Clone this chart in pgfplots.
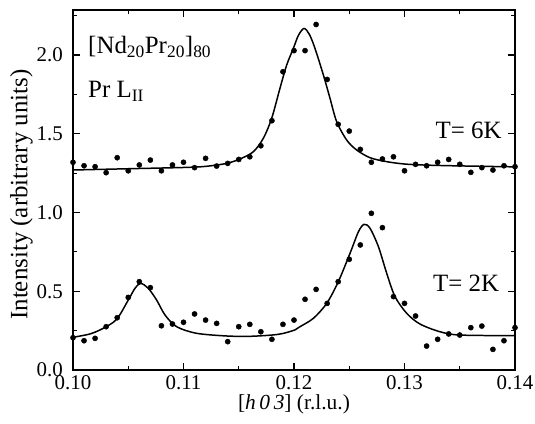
\documentclass[border=0pt]{standalone}
\usepackage{fontspec}
\setmainfont{Liberation Serif}
\usepackage{pgfplots}
\pgfplotsset{compat=1.18}

\begin{document}
\begin{tikzpicture}
\begin{axis}[
 name=ax,
 scale only axis, width=442bp, height=360bp,
 xmin=0.10, xmax=0.14, ymin=0, ymax=2.286,
 xtick={0.10,0.11,0.12,0.13,0.14},
 minor xtick={0.105,0.115,0.125,0.135},
 ytick={0,0.5,1,1.5,2},
 minor ytick={0.25,0.75,1.25,1.75,2.25},
 tick align=inside,
 major tick length=7bp, minor tick length=4bp,
 xticklabel style={/pgf/number format/fixed, /pgf/number format/fixed zerofill, /pgf/number format/precision=2},
 yticklabel style={/pgf/number format/fixed, /pgf/number format/fixed zerofill, /pgf/number format/precision=1},
 /pgf/number format/assume math mode=true,
 ticklabel style={font=\fontsize{21}{24}\selectfont},
 xticklabel style={inner sep=0pt, yshift=-5bp},
 yticklabel style={inner sep=0pt, xshift=-10bp},
 axis line style={line width=1.5pt},
 every tick/.style={line width=1.1pt, black},
 clip=false,
 xlabel={[\textit{h\,0\,3}] (r.l.u.)},
 xlabel style={font=\fontsize{21.5}{24}\selectfont, inner sep=0pt, anchor=base, at={(axis description cs:0.5,-0.111)}},
 ylabel={Intensity (arbitrary units)},
 ylabel style={font=\fontsize{25}{30}\selectfont, inner sep=0pt, anchor=north, at={(axis description cs:-0.1425,0.4875)}},
]
% T = 6K data
\addplot[only marks, mark=*, mark size=2.6bp, black] coordinates {
(0.100,1.319) (0.101,1.297) (0.102,1.291) (0.103,1.253) (0.104,1.348)
(0.105,1.265) (0.106,1.302) (0.107,1.333) (0.108,1.265) (0.109,1.302)
(0.110,1.319) (0.111,1.285) (0.112,1.344) (0.113,1.295) (0.114,1.312)
(0.115,1.337) (0.116,1.354) (0.117,1.424) (0.118,1.583) (0.119,1.894)
(0.120,2.028) (0.121,2.028) (0.122,2.194) (0.123,1.845) (0.124,1.560)
(0.125,1.517) (0.126,1.401) (0.127,1.319) (0.128,1.340) (0.129,1.354)
(0.130,1.265) (0.131,1.306) (0.132,1.297) (0.133,1.319) (0.134,1.337)
(0.135,1.306) (0.136,1.255) (0.137,1.285) (0.138,1.270) (0.139,1.297)
(0.140,1.291)
};
% T = 6K fit
\addplot[smooth, tension=0.5, line width=1.5pt, black] coordinates {
(0.1000,1.270) (0.1050,1.278) (0.1100,1.286) (0.1120,1.293) (0.1139,1.312)
(0.11511,1.340) (0.11632,1.386) (0.11722,1.471) (0.11798,1.598) (0.11873,1.789)
(0.11934,1.937) (0.11994,2.042) (0.12040,2.125) (0.12091,2.169) (0.12140,2.130)
(0.12190,2.042) (0.12266,1.873) (0.12326,1.725) (0.12386,1.577) (0.12477,1.460)
(0.12567,1.397) (0.12688,1.348) (0.12839,1.323) (0.1300,1.308) (0.1320,1.301)
(0.1350,1.296) (0.1400,1.290)
};
% T = 2K data
\addplot[only marks, mark=*, mark size=2.6bp, black] coordinates {
(0.100,0.205) (0.101,0.186) (0.102,0.201) (0.103,0.275) (0.104,0.332)
(0.105,0.461) (0.106,0.561) (0.107,0.523) (0.108,0.281) (0.109,0.292)
(0.110,0.303) (0.111,0.356) (0.112,0.317) (0.113,0.296) (0.114,0.180)
(0.115,0.275) (0.116,0.290) (0.117,0.243) (0.118,0.195) (0.119,0.290)
(0.120,0.317) (0.121,0.449) (0.122,0.512) (0.123,0.423) (0.124,0.561)
(0.125,0.703) (0.126,0.794) (0.127,0.995) (0.128,0.904) (0.129,0.466)
(0.130,0.423) (0.131,0.343) (0.132,0.152) (0.133,0.195) (0.134,0.229)
(0.135,0.222) (0.136,0.269) (0.137,0.279) (0.138,0.131) (0.139,0.186)
(0.140,0.269)
};
% T = 2K fit
\addplot[smooth, tension=0.5, line width=1.5pt, black] coordinates {
(0.1000,0.208) (0.10154,0.229) (0.10274,0.265) (0.10395,0.322) (0.10500,0.444)
(0.10561,0.519) (0.10612,0.550) (0.10681,0.519) (0.10757,0.444) (0.10833,0.349)
(0.10938,0.275) (0.11119,0.233) (0.11391,0.216) (0.1160,0.214) (0.1180,0.222)
(0.1190,0.232) (0.1201,0.255) (0.12054,0.275) (0.12175,0.328) (0.12296,0.423)
(0.12401,0.561) (0.12507,0.741) (0.12583,0.878) (0.12634,0.925) (0.12688,0.900)
(0.12764,0.783) (0.12839,0.614) (0.12914,0.466) (0.13020,0.360) (0.13140,0.292)
(0.13321,0.243) (0.13502,0.222) (0.1400,0.218)
};
\node[anchor=base west, inner sep=0pt, font=\fontsize{25}{30}\selectfont] at (axis cs:0.10136,2.01) {[Nd\textsubscript{20}Pr\textsubscript{20}]\textsubscript{80}};
\node[anchor=base west, inner sep=0pt, font=\fontsize{25}{30}\selectfont] at (axis cs:0.10136,1.73) {Pr L\textsubscript{II}};
\node[anchor=base east, inner sep=0pt, font=\fontsize{25}{30}\selectfont] at (axis cs:0.1388,1.467) {T= 6K};
\node[anchor=base east, inner sep=0pt, font=\fontsize{25}{30}\selectfont] at (axis cs:0.13858,0.497) {T= 2K};
\end{axis}
\path ([shift={(-73bp,-53bp)}]ax.south west) rectangle ([shift={(20bp,10bp)}]ax.north east);
\end{tikzpicture}
\end{document}
